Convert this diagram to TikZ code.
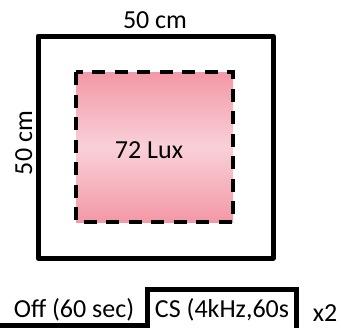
\documentclass[tikz,border=0pt]{standalone}
\usepackage{fontspec}
\setmainfont{Carlito}
\begin{document}
\begin{tikzpicture}[x=1pt,y=-1pt,font=\fontsize{26}{30}\selectfont,
  thickline/.style={line width=5pt},
  dashbox/.style={line width=4pt,dash pattern=on 13pt off 9.5pt}]
\definecolor{luxpink}{RGB}{243,152,166}
\definecolor{luxlight}{RGB}{249,208,216}
\useasboundingbox (0,0) rectangle (341,330);
\draw[thickline,line join=round] (38,36) rectangle (273,258);
\draw[dashbox,top color=luxpink,bottom color=luxpink,middle color=luxlight] (76,72) rectangle (233,222);
\node[anchor=base] (widthlabel) at (155,28) {50 cm};
\node[rotate=90,anchor=base] (heightlabel) at (32,143) {50 cm};
\node[anchor=base] (luxlabel) at (149,158) {72 Lux};
\node[anchor=base] (offlabel) at (74,317) {Off (60 sec)};
\node[anchor=base] (cslabel) at (222,317) {CS (4kHz,60s};
\node[anchor=base] (repeatlabel) at (325,321) {x2};
\draw[thickline] (0,325.5) -- (147,325.5) -- (147,289) -- (296,289) -- (296,328);
\end{tikzpicture}
\end{document}
